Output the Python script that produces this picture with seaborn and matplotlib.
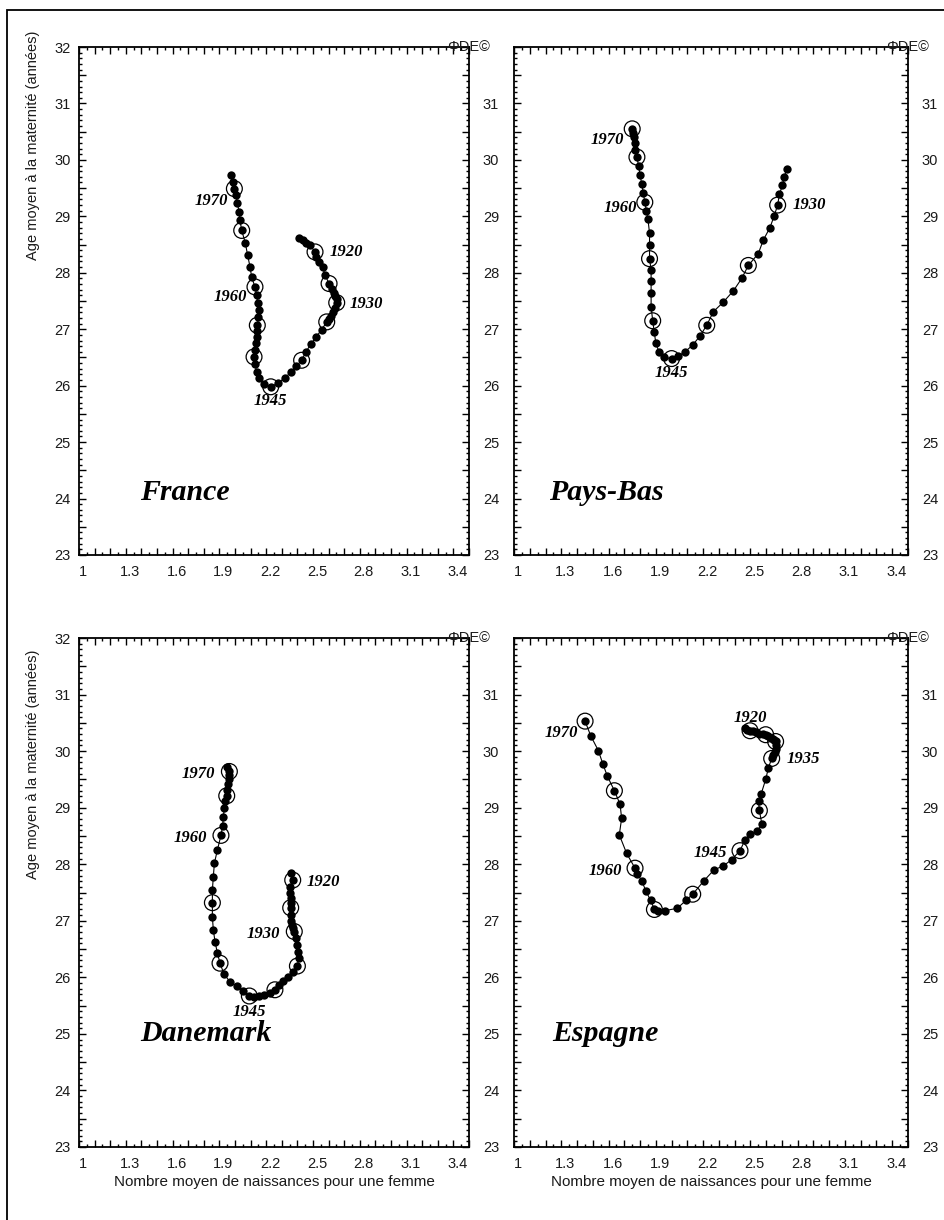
import numpy as np
import pandas as pd
import matplotlib
matplotlib.use("Agg")
import matplotlib.pyplot as plt
import seaborn as sns
from matplotlib.transforms import ScaledTranslation
from matplotlib.patches import Rectangle

# ---------------- data ----------------
countries = ["France", "Pays-Bas", "Danemark", "Espagne"]

france_start = 1916
france_x = [2.412, 2.434, 2.455, 2.481, 2.513, 2.519, 2.541, 2.562, 2.577, 2.603,
            2.622, 2.635, 2.643, 2.652, 2.652, 2.639, 2.626, 2.613, 2.600, 2.588,
            2.555, 2.519, 2.485, 2.455, 2.427, 2.391, 2.359, 2.320, 2.278, 2.229,
            2.186, 2.156, 2.139, 2.128, 2.122, 2.126, 2.135, 2.139, 2.143, 2.143,
            2.150, 2.152, 2.145, 2.139, 2.128, 2.107, 2.096, 2.081, 2.066, 2.043,
            2.032, 2.026, 2.015, 2.006, 1.996, 1.985, 1.972]
france_y = [28.61, 28.58, 28.53, 28.49, 28.37, 28.28, 28.19, 28.10, 27.96, 27.81,
            27.72, 27.65, 27.59, 27.54, 27.47, 27.38, 27.31, 27.23, 27.18, 27.13,
            26.99, 26.86, 26.73, 26.60, 26.45, 26.34, 26.24, 26.14, 26.05, 25.98,
            26.03, 26.13, 26.24, 26.38, 26.51, 26.63, 26.75, 26.86, 26.97, 27.07,
            27.21, 27.34, 27.47, 27.60, 27.75, 27.92, 28.11, 28.31, 28.53, 28.75,
            28.93, 29.08, 29.24, 29.38, 29.49, 29.61, 29.73]

paysbas_start = 1926
paysbas_x = [2.730, 2.715, 2.703, 2.684, 2.673, 2.650, 2.624, 2.582, 2.550, 2.487,
             2.445, 2.392, 2.328, 2.265, 2.223, 2.180, 2.134, 2.085, 2.040, 2.000,
             1.950, 1.920, 1.900, 1.890, 1.880, 1.870, 1.870, 1.870, 1.870, 1.860,
             1.860, 1.860, 1.850, 1.840, 1.830, 1.820, 1.810, 1.800, 1.790, 1.780,
             1.770, 1.765, 1.760, 1.755, 1.750]
paysbas_y = [29.83, 29.70, 29.55, 29.39, 29.20, 29.00, 28.80, 28.58, 28.34, 28.13,
             27.90, 27.68, 27.48, 27.31, 27.07, 26.88, 26.72, 26.60, 26.52, 26.48,
             26.50, 26.60, 26.75, 26.95, 27.15, 27.40, 27.65, 27.85, 28.05, 28.25,
             28.50, 28.70, 28.95, 29.10, 29.25, 29.42, 29.58, 29.73, 29.90, 30.05,
             30.18, 30.30, 30.40, 30.48, 30.55]

danemark_start = 1919
danemark_x = [2.361, 2.370, 2.353, 2.353, 2.357, 2.359, 2.357, 2.359, 2.361, 2.365,
              2.374, 2.380, 2.391, 2.400, 2.406, 2.408, 2.400, 2.374, 2.342, 2.310,
              2.282, 2.256, 2.224, 2.186, 2.154, 2.122, 2.092, 2.053, 2.011, 1.968,
              1.929, 1.904, 1.887, 1.872, 1.861, 1.855, 1.855, 1.855, 1.861, 1.868,
              1.887, 1.910, 1.921, 1.925, 1.932, 1.938, 1.947, 1.947, 1.953, 1.959,
              1.964, 1.964, 1.947]
danemark_y = [27.84, 27.72, 27.60, 27.50, 27.40, 27.31, 27.23, 27.10, 27.00, 26.93,
              26.87, 26.81, 26.69, 26.57, 26.45, 26.34, 26.20, 26.10, 26.01, 25.94,
              25.87, 25.78, 25.73, 25.69, 25.67, 25.65, 25.67, 25.75, 25.84, 25.92,
              26.06, 26.25, 26.43, 26.63, 26.84, 27.07, 27.32, 27.54, 27.78, 28.02,
              28.25, 28.51, 28.68, 28.84, 28.99, 29.11, 29.21, 29.32, 29.42, 29.50,
              29.58, 29.64, 29.72]

espagne_start = 1918
espagne_x = [2.468, 2.481, 2.498, 2.514, 2.536, 2.557, 2.578, 2.597, 2.614, 2.629,
             2.641, 2.652, 2.660, 2.662, 2.660, 2.654, 2.646, 2.635, 2.614, 2.597,
             2.569, 2.552, 2.557, 2.572, 2.544, 2.498, 2.466, 2.434, 2.381, 2.328,
             2.269, 2.206, 2.134, 2.091, 2.036, 1.958, 1.916, 1.891, 1.867, 1.838,
             1.810, 1.783, 1.768, 1.715, 1.668, 1.683, 1.673, 1.637, 1.592, 1.563,
             1.535, 1.487, 1.451]
espagne_y = [30.40, 30.37, 30.36, 30.35, 30.33, 30.31, 30.30, 30.29, 30.27, 30.24,
             30.22, 30.20, 30.17, 30.10, 30.04, 29.98, 29.93, 29.87, 29.70, 29.50,
             29.25, 29.11, 28.95, 28.72, 28.58, 28.53, 28.43, 28.24, 28.08, 27.97,
             27.90, 27.71, 27.47, 27.36, 27.22, 27.18, 27.18, 27.20, 27.36, 27.52,
             27.71, 27.83, 27.93, 28.19, 28.52, 28.81, 29.06, 29.30, 29.56, 29.78,
             30.01, 30.27, 30.53]

france_labels = [1920, 1930, 1960, 1970, 1945]
paysbas_labels = [1970, 1960, 1930, 1945]
danemark_labels = [1970, 1960, 1920, 1930, 1945]
espagne_labels = [1920, 1935, 1945, 1960, 1970]

x_tick_values = [1.0, 1.3, 1.6, 1.9, 2.2, 2.5, 2.8, 3.1, 3.4]
x_tick_labels = ["1", "1.3", "1.6", "1.9", "2.2", "2.5", "2.8", "3.1", "3.4"]
y_tick_values = [23, 24, 25, 26, 27, 28, 29, 30, 31, 32]

x_title = "Nombre moyen de naissances pour une femme"
y_title = "Age moyen à la maternité (années)"
credit = "ΦDE©"

series = {
    "France": (france_start, france_x, france_y, france_labels),
    "Pays-Bas": (paysbas_start, paysbas_x, paysbas_y, paysbas_labels),
    "Danemark": (danemark_start, danemark_x, danemark_y, danemark_labels),
    "Espagne": (espagne_start, espagne_x, espagne_y, espagne_labels),
}

# ---------------- layout (pixels) ----------------
W, H = 945, 1220
boxes = {"France": (79, 47, 469, 555), "Pays-Bas": (514, 47, 908, 555),
         "Danemark": (79, 638, 469, 1147), "Espagne": (514, 638, 908, 1147)}
label_offsets = {
    "France": {1920: (15, 0, "left"), 1930: (13, -1, "left"), 1960: (-8, -10, "right"),
               1970: (-6, -12, "right"), 1945: (0, -14, "center")},
    "Pays-Bas": {1970: (-8, -11, "right"), 1960: (-8, -6, "right"),
                 1930: (15, 0, "left"), 1945: (0, -14, "center")},
    "Danemark": {1970: (-14, -3, "right"), 1960: (-14, -3, "right"), 1920: (14, -2, "left"),
                 1930: (-14, -2, "right"), 1945: (0, -16, "center")},
    "Espagne": {1920: (0, 13, "center"), 1935: (15, -1, "left"), 1945: (-13, -2, "right"),
                1960: (-13, -3, "right"), 1970: (-7, -12, "right")},
}
name_pos = {"France": (1.39, 24.1), "Pays-Bas": (1.22, 24.1),
            "Danemark": (1.39, 25.0), "Espagne": (1.24, 25.0)}

sns.set_theme(style="ticks")
plt.rcParams["font.family"] = ["Liberation Sans", "DejaVu Sans"]

fig = plt.figure(figsize=(W / 100, H / 100), dpi=100)
serif_bi = dict(family="Liberation Serif", weight="bold", style="italic", color="black")
TXT = "#1a1a1a"

for c in countries:
    start, xs, ys, lab_years = series[c]
    years = np.arange(start, start + len(xs))
    df = pd.DataFrame({"year": years, "x": xs, "y": ys})
    l, t, r, b = boxes[c]
    ax = fig.add_axes([l / W, 1 - b / H, (r - l) / W, (b - t) / H])
    ax.set_facecolor("white")

    sns.lineplot(data=df, x="x", y="y", sort=False, estimator=None, color="black",
                 lw=0.8, ax=ax, zorder=2)
    sns.scatterplot(data=df, x="x", y="y", s=36, color="black", linewidth=0,
                    ax=ax, zorder=3)
    circ = df[df["year"] % 5 == 0]
    sns.scatterplot(data=circ, x="x", y="y", s=130, facecolor="none",
                    edgecolor="black", linewidth=0.9, ax=ax, zorder=4)

    for yr in lab_years:
        row = df[df["year"] == yr].iloc[0]
        dx, dy, ha = label_offsets[c][yr]
        ax.annotate(str(yr), xy=(row["x"], row["y"]), xytext=(dx, dy),
                    textcoords="offset pixels", ha=ha, va="center",
                    fontsize=12, **serif_bi)

    nx, ny = name_pos[c]
    ax.text(nx, ny, c, ha="left", va="center", fontsize=21.5, **serif_bi)

    ax.set_xlim(1.0, 3.5)
    ax.set_ylim(23, 32)
    xmaj = np.round(np.arange(1.0, 3.5001, 0.1), 2)
    xlabs = []
    for v in xmaj:
        m = [lab for tv, lab in zip(x_tick_values, x_tick_labels) if abs(tv - v) < 1e-6]
        xlabs.append(m[0] if m else "")
    ax.set_xticks(xmaj, xlabs)
    ax.set_xticks(np.round(np.arange(1.05, 3.5, 0.1), 2), minor=True)
    ymaj = np.arange(23, 32.01, 0.5)
    ylabs = [str(int(v)) if v in y_tick_values else "" for v in ymaj]
    ax.set_yticks(ymaj, ylabs)
    ax.set_yticks(np.arange(23, 32.01, 0.1), minor=True)
    ax.tick_params(which="both", direction="in", top=True, right=True,
                   width=1.0, color="black", labelsize=10.5, labelcolor=TXT)
    ax.tick_params(which="major", length=5)
    ax.tick_params(which="minor", length=2.5)
    ax.tick_params(axis="y", pad=6)
    ax.tick_params(axis="x", pad=7)
    left_col = c in ("France", "Danemark")
    if not left_col:
        ax.tick_params(axis="y", labelleft=False)
    sec = ax.secondary_yaxis("right")
    sec.set_yticks(y_tick_values[:-1], [str(v) for v in y_tick_values[:-1]])
    sec.tick_params(length=0, pad=10, labelsize=10.5, labelcolor=TXT)
    sec.spines["right"].set_visible(False)
    for lab in ax.get_xticklabels():
        lab.set_transform(lab.get_transform() + ScaledTranslation(4 / 100, 0, fig.dpi_scale_trans))
    for sp in ax.spines.values():
        sp.set_linewidth(1.3)
        sp.set_color("black")
    ax.set_xlabel("")
    ax.set_ylabel("")
    if c in ("Danemark", "Espagne"):
        ax.set_xlabel(x_title, fontsize=11, color=TXT, labelpad=3)
    ax.text(1.0, 1.0, credit, transform=ax.transAxes, ha="center", va="center",
            fontsize=10.5, color=TXT)

fig.text(33 / W, 1 - 31 / H, y_title, rotation=90, ha="center", va="top",
         fontsize=10.5, color=TXT)
fig.text(33 / W, 1 - 650 / H, y_title, rotation=90, ha="center", va="top",
         fontsize=10.5, color=TXT)

fig.add_artist(Rectangle((7 / W, -0.05), 1.2, (1 - 10 / H) + 0.05,
                         transform=fig.transFigure, fill=False, lw=1.3,
                         ec="black", clip_on=False))

fig.savefig("out.png", dpi=100)
